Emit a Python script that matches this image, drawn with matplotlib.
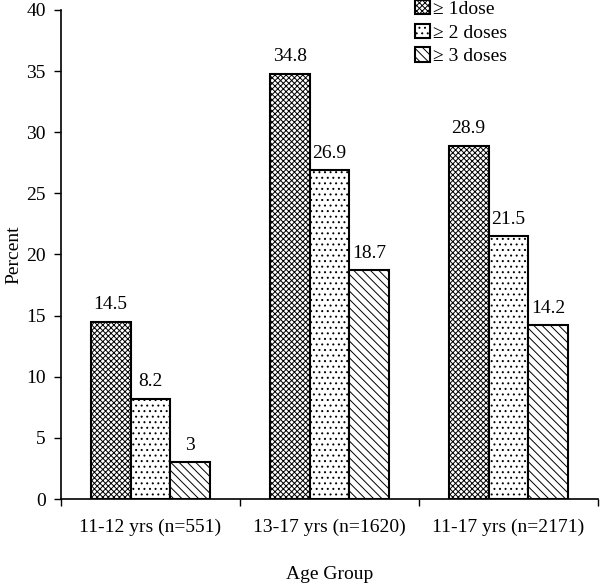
import matplotlib
matplotlib.use("Agg")
import matplotlib.pyplot as plt
import numpy as np

categories = ["11-12 yrs (n=551)", "13-17 yrs (n=1620)", "11-17 yrs (n=2171)"]
series_names = ["\u2265 1dose", "\u2265 2 doses", "\u2265 3 doses"]
dose1 = [14.5, 34.8, 28.9]
dose2 = [8.2, 26.9, 21.5]
dose3 = [3, 18.7, 14.2]
labels1 = ["14.5", "34.8", "28.9"]
labels2 = ["8.2", "26.9", "21.5"]
labels3 = ["3", "18.7", "14.2"]
yticks = [0, 5, 10, 15, 20, 25, 30, 35, 40]

plt.rcParams['font.family'] = ['Liberation Serif', 'DejaVu Serif']
plt.rcParams['hatch.linewidth'] = 0.7

FS = 14

fig = plt.figure(figsize=(6.0, 5.88), dpi=100)
ax = fig.add_axes([61/600, 1 - 499/588, (598-61)/600, (499-10)/588])

x = np.arange(len(categories)) + 0.5
w = 0.223
series = [(dose1, labels1, 'xxxxxx', -w), (dose2, labels2, '...', 0), (dose3, labels3, '\\\\\\\\', w)]
for (vals, labs, hatch, off), name in zip(series, series_names):
    bars = ax.bar(x + off, vals, width=w, facecolor='white', edgecolor='black',
                  hatch=hatch, linewidth=1.5, label=name)
    for b, lab in zip(bars, labs):
        ax.annotate(lab, (b.get_x() + b.get_width()/2, b.get_height()),
                    xytext=(0, 6), textcoords='offset points', ha='center', va='bottom',
                    fontsize=FS)

ax.set_xlim(0, 3)
ax.set_ylim(0, 40)
ax.set_yticks(yticks)
ax.set_yticklabels([str(v) for v in yticks], fontsize=FS)
ax.set_xticks([0, 1, 2, 3])
ax.set_xticklabels([])
ax.set_xticks(x, minor=True)
ax.set_xticklabels(categories, minor=True, fontsize=FS)
ax.tick_params(axis='x', which='minor', length=0, pad=14)
ax.tick_params(axis='x', which='major', length=5, direction='out', width=1)
ax.tick_params(axis='y', length=5, direction='out', width=1, pad=6)
for s in ['top', 'right']:
    ax.spines[s].set_visible(False)
for s in ['left', 'bottom']:
    ax.spines[s].set_linewidth(1.2)

ax.set_ylabel("Percent", fontsize=FS, labelpad=3)
ax.set_xlabel("Age Group", fontsize=FS, labelpad=22)

leg = ax.legend(loc='upper left', bbox_to_anchor=((415-61)/537, 1 + 10/489), frameon=False,
                fontsize=FS, handlelength=0.77, handleheight=0.75, handletextpad=0.15,
                labelspacing=0.3, borderpad=0, borderaxespad=0)

fig.savefig("out.png", dpi=100)
